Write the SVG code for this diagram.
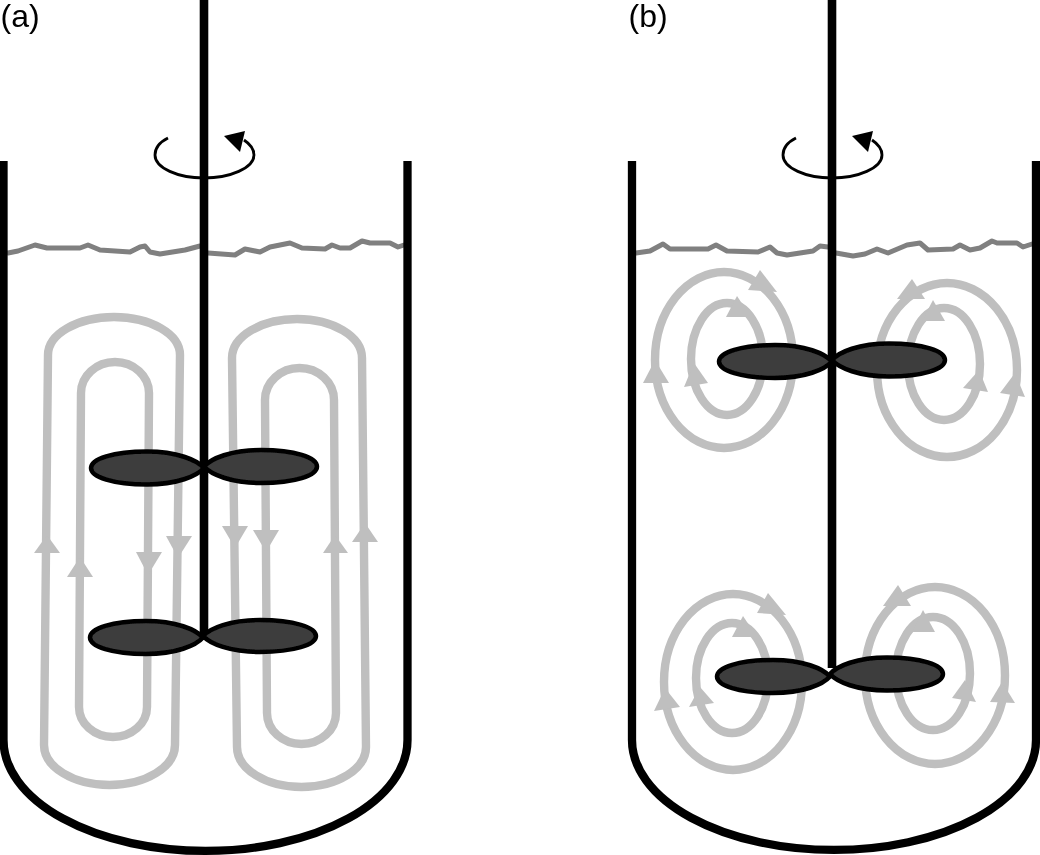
<svg xmlns="http://www.w3.org/2000/svg" width="1040" height="855" viewBox="0 0 1040 855">
<style>
.vessel{fill:none;stroke:#000;stroke-width:8.3}
.shaft{fill:none;stroke:#000;stroke-width:8.6}
.surface{fill:none;stroke:#808080;stroke-width:5;stroke-linejoin:round;stroke-linecap:round}
.flow{fill:none;stroke:#bfbfbf;stroke-width:8.4}
.head{fill:#bfbfbf}
.blade{fill:#3c3c3c;stroke:#000;stroke-width:4.5;stroke-linejoin:round}
.rot{fill:none;stroke:#000;stroke-width:2.8}
.rothead{fill:#000}
.lbl{font-family:"Liberation Sans",Arial,sans-serif;font-size:32px;fill:#000}
</style>
<defs>
<filter id="soft" x="0" y="0" width="1040" height="855" filterUnits="userSpaceOnUse"><feGaussianBlur stdDeviation="0.45"/></filter>
<path id="bl" d="M0 0 C-7 -8 -27 -16.500 -57 -16.500 C-91 -16.500 -113 -9 -113 0 C-113 9 -91 16.500 -57 16.500 C-27 16.500 -7 8 0 0Z"/>
</defs>
<rect width="1040" height="855" fill="#fff"/>
<g filter="url(#soft)">
<g id="panel-a">
<text class="lbl" x="0.500" y="27">(a)</text>
<g id="flow-a">
<path class="flow" d="M44 745 L48 355 A66 38 0 0 1 180 355 L175 745 A65.500 40 0 0 1 44 745Z"/>
<path class="flow" d="M79 707 L81 393 A34 31 0 0 1 149 393 L147 707 A34 30 0 0 1 79 707Z"/>
<path class="flow" d="M237 747 L232 358 A65 39 0 0 1 362 358 L366 747 A64.500 40 0 0 1 237 747Z"/>
<path class="flow" d="M267 713 L265 400 A34.500 32 0 0 1 334 400 L336 713 A34.500 31 0 0 1 267 713Z"/>
<polygon class="head" points="47,535 60,553 34,553"/>
<polygon class="head" points="80,557 93,577 67,577"/>
<polygon class="head" points="136,552 162,552 148,575"/>
<polygon class="head" points="166,536 192,536 178,558"/>
<polygon class="head" points="222,526 248,526 235,548"/>
<polygon class="head" points="253,530 279,530 266,552"/>
<polygon class="head" points="335,535 348,553 323,553"/>
<polygon class="head" points="365,523 378,542 352,542"/>
</g>
<path id="surface-a1" class="surface" d="M8 253 L18 251 L35 245 L47 248 L80 248 L88 245 L100 250 L130 252 L140 247 L145 246 L150 252 L160 254 L185 250 L200 246"/>
<path id="surface-a2" class="surface" d="M208 253 L235 255 L245 249 L260 252 L270 247 L290 243 L302 248 L325 249 L332 245 L340 248 L350 248 L362 241 L370 243 L390 243 L398 247 L404 245"/>
<path id="vessel-a" class="vessel" d="M3.500 161 V740 A202 111 0 0 0 407.500 740 V161"/>
<path id="shaft-a" class="shaft" d="M204 0 V640"/>
<g id="blades-a">
<use href="#bl" class="blade" transform="translate(204 468)"/>
<use href="#bl" class="blade" transform="translate(204 466.500) scale(-1 1)"/>
<use href="#bl" class="blade" transform="translate(203 637.500)"/>
<use href="#bl" class="blade" transform="translate(203 636) scale(-1 0.97)"/>
</g>
<g id="rotation-a">
<path class="rot" d="M168 138 C160 142 155 148 155 155 C155 168 178 178 204 178 C230 178 254 168 254 155 C254 149 250 144 244 140"/>
<polygon class="rothead" points="245,131 240,152 224,136"/>
</g>
</g>
<g id="panel-b">
<text class="lbl" x="628.500" y="27">(b)</text>
<g id="flow-b">
<ellipse class="flow" cx="724" cy="360" rx="69" ry="88"/>
<ellipse class="flow" cx="727" cy="359" rx="36" ry="56"/>
<ellipse class="flow" cx="947" cy="370" rx="70" ry="87"/>
<ellipse class="flow" cx="944" cy="364" rx="36" ry="56"/>
<ellipse class="flow" cx="733" cy="682" rx="69" ry="88"/>
<ellipse class="flow" cx="732" cy="678" rx="36" ry="55"/>
<ellipse class="flow" cx="935" cy="675.500" rx="70" ry="88.500"/>
<ellipse class="flow" cx="933" cy="673.500" rx="37" ry="56.500"/>
<polygon class="head" points="760,270 777,292 748,290"/>
<polygon class="head" points="737,296 751,317 726,317"/>
<polygon class="head" points="655,360 669,383 643,383"/>
<polygon class="head" points="694,363 708,383 684,387"/>
<polygon class="head" points="912,279 925,299 897,299"/>
<polygon class="head" points="933,300 945,321 922,321"/>
<polygon class="head" points="1015,373 1025,397 1000,393"/>
<polygon class="head" points="979,370 988,392 963,388"/>
<polygon class="head" points="768,593 786,615 757,613"/>
<polygon class="head" points="743,616 757,637 732,637"/>
<polygon class="head" points="665,688 680,707 654,711"/>
<polygon class="head" points="700,687 714,703 689,707"/>
<polygon class="head" points="898,585 911,606 883,606"/>
<polygon class="head" points="923,610 935,632 912,632"/>
<polygon class="head" points="1002,682 1015,703 990,702"/>
<polygon class="head" points="965,680 976,702 952,698"/>
</g>
<path id="surface-b1" class="surface" d="M636 253 L650 251 L663 244 L670 249 L708 249 L716 245 L727 251 L758 252 L770 247 L777 253 L787 255 L813 251 L820 246 L828 247"/>
<path id="surface-b2" class="surface" d="M836 253 L853 256 L865 254 L877 249 L888 253 L907 245 L920 243 L928 250 L953 249 L960 245 L970 250 L980 248 L992 241 L997 243 L1017 243 L1023 247 L1032 244"/>
<path id="vessel-b" class="vessel" d="M632 161 V740 A202 110 0 0 0 1036 740 V161"/>
<path id="shaft-b" class="shaft" d="M832 0 V668"/>
<g id="blades-b">
<use href="#bl" class="blade" transform="translate(832 361.500)"/>
<use href="#bl" class="blade" transform="translate(832 360) scale(-1 1)"/>
<use href="#bl" class="blade" transform="translate(830 676.500)"/>
<use href="#bl" class="blade" transform="translate(830 674) scale(-1 1)"/>
</g>
<g id="rotation-b">
<path class="rot" d="M796 138 C788 142 783 148 783 155 C783 168 806 178 832 178 C858 178 882 168 882 155 C882 149 878 144 872 140"/>
<polygon class="rothead" points="873,131 868,152 852,136"/>
</g>
</g>
</g>
</svg>
